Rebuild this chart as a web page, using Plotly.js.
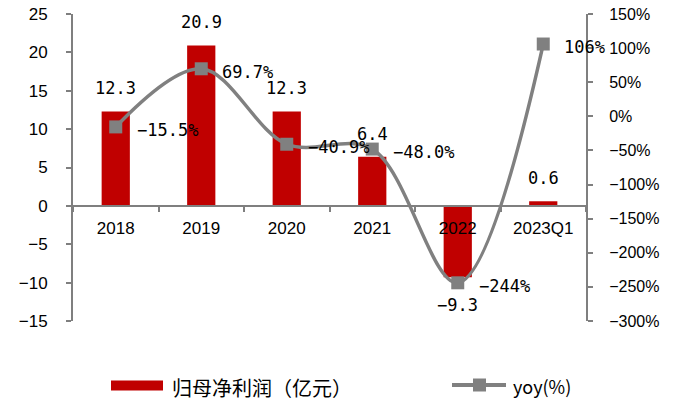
<!DOCTYPE html>
<html>
<head>
<meta charset="utf-8">
<script src="https://cdn.plot.ly/plotly-3.0.1.min.js"></script>
<style>html,body{margin:0;padding:0;background:#fff;}#chart{width:673px;height:401px;}</style>
</head>
<body>
<div id="chart"></div>
<script>
// ---- data ----
const categories = ['2018', '2019', '2020', '2021', '2022', '2023Q1'];
const profit = [12.3, 20.9, 12.3, 6.4, -9.3, 0.6];          // 归母净利润（亿元）
const yoy = [-15.5, 69.7, -40.9, -48.0, -244, 106];          // yoy(%)
const profitLabels = ['12.3', '20.9', '12.3', '6.4', '\u22129.3', '0.6'];
const yoyLabels = ['\u221215.5%', '69.7%', '\u221240.9%', '\u221248.0%', '\u2212244%', '106%'];
const seriesNames = ['归母净利润（亿元）', 'yoy(%)'];

// ---- layout constants ----
const W = 673, H = 401;
const M = {l: 73, r: 87, t: 14, b: 80};
const PW = W - M.l - M.r, PH = H - M.t - M.b;
const px = x => (x - M.l) / PW;          // pixel -> paper x
const py = y => (H - M.b - y) / PH;      // pixel -> paper y

const RED = '#C00000', GRAY = '#808080', AXIS = '#7f7f7f';
const tickFont = {family: 'Liberation Sans, Arial, sans-serif', size: 17, color: '#000'};
const labFont = {family: 'DejaVu Sans Mono, monospace', size: 17, color: '#000'};
const cjkFamily = 'Noto Sans CJK SC, sans-serif';

const yRange = [-15, 25];

const traces = [
  {
    type: 'bar', x: categories, y: profit, name: seriesNames[0],
    marker: {color: RED}, width: 0.33, yaxis: 'y', showlegend: false, hoverinfo: 'skip'
  },
  {
    type: 'scatter', mode: 'lines+markers', x: categories, y: yoy, name: seriesNames[1],
    yaxis: 'y2', line: {color: GRAY, width: 3.5, shape: 'spline', smoothing: 1},
    marker: {symbol: 'square', size: 13, color: GRAY}, showlegend: false, hoverinfo: 'skip', cliponaxis: false
  }
];

const annotations = [];
categories.forEach((c, i) => {
  const v = profit[i];
  // category axis: position by category index
  annotations.push({
    x: i, y: v, xref: 'x', yref: 'y', text: profitLabels[i], showarrow: false,
    xanchor: 'center', yanchor: v >= 0 ? 'bottom' : 'top', yshift: v >= 0 ? 11 : -16, font: labFont
  });
  annotations.push({
    x: i, y: yoy[i], xref: 'x', yref: 'y2', text: yoyLabels[i], showarrow: false,
    xanchor: 'left', yanchor: 'middle', xshift: 19, yshift: -3, font: labFont
  });
});
// legend texts
annotations.push({xref: 'paper', yref: 'paper', x: px(170), y: py(387), xanchor: 'left', yanchor: 'middle',
  text: seriesNames[0], showarrow: false, font: {family: cjkFamily, size: 20, color: '#000'}});
annotations.push({xref: 'paper', yref: 'paper', x: px(511), y: py(386), xanchor: 'left', yanchor: 'middle',
  text: seriesNames[1], showarrow: false, font: {family: cjkFamily, size: 18, color: '#000'}});

const shapes = [
  {type: 'rect', xref: 'paper', yref: 'paper', x0: px(111), x1: px(163), y0: py(390.5), y1: py(380.5),
   fillcolor: RED, line: {width: 0}},
  {type: 'line', xref: 'paper', yref: 'paper', x0: px(452), x1: px(506), y0: py(385), y1: py(385),
   line: {color: GRAY, width: 4}},
  {type: 'rect', xref: 'paper', yref: 'paper', x0: px(473), x1: px(486), y0: py(391.5), y1: py(378.5),
   fillcolor: GRAY, line: {width: 0}}
];

const layout = {
  width: W, height: H, margin: M,
  paper_bgcolor: '#fff', plot_bgcolor: '#fff',
  showlegend: false,
  xaxis: {
    type: 'category', range: [-0.5, 5.5], anchor: 'free',
    position: (0 - yRange[0]) / (yRange[1] - yRange[0]),
    showline: true, linecolor: AXIS, linewidth: 2,
    ticks: 'outside', tickson: 'boundaries', ticklen: 5, tickwidth: 2, tickcolor: AXIS,
    tickfont: tickFont, ticklabelstandoff: 7, showgrid: false, zeroline: false, fixedrange: true
  },
  yaxis: {
    range: yRange, dtick: 5, tick0: 0, showline: true, linecolor: AXIS, linewidth: 2,
    ticks: 'outside', ticklen: 5, tickwidth: 2, tickcolor: AXIS, tickfont: tickFont,
    ticklabelstandoff: 15, showgrid: false, zeroline: false, fixedrange: true
  },
  yaxis2: {
    range: [-300, 150], dtick: 50, tick0: 0, ticksuffix: '%', overlaying: 'y', side: 'right',
    showline: true, linecolor: AXIS, linewidth: 2, ticks: 'outside', ticklen: 5, tickwidth: 2,
    tickcolor: AXIS, tickfont: {family: tickFont.family, size: 16, color: '#000'},
    ticklabelstandoff: 13, showgrid: false, zeroline: false, fixedrange: true
  },
  annotations: annotations,
  shapes: shapes
};

Plotly.newPlot('chart', traces, layout, {displayModeBar: false, staticPlot: true});
</script>
</body>
</html>
